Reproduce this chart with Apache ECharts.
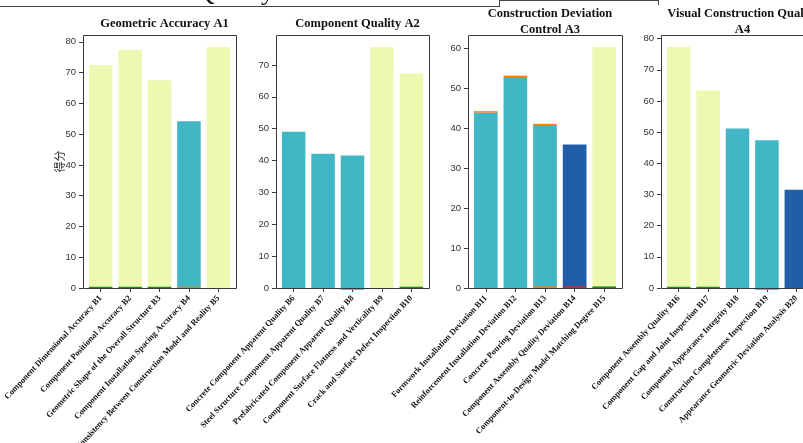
<!DOCTYPE html>
<html>
<head>
<meta charset="utf-8">
<script src="https://cdn.jsdelivr.net/npm/echarts@6/dist/echarts.min.js"></script>
<style>
  html, body { margin: 0; padding: 0; background: #fff; }
  #chart { width: 803px; height: 443px; }
</style>
</head>
<body>
<div id="chart"></div>
<script>
// ---- data ----
const titles = [
  'Geometric Accuracy A1',
  'Component Quality A2',
  'Construction Deviation\nControl A3',
  'Visual Construction Quality\nA4'
];

const catsA1 = ['Component Dimensional Accuracy B1', 'Component Positional Accuracy B2',
  'Geometric Shape of the Overall Structure B3', 'Component Installation Spacing Accuracy B4',
  'Consistency Between Construction Model and Reality B5'];
const catsA2 = ['Concrete Component Apparent Quality B6', 'Steel Structure Component Apparent Quality B7',
  'Prefabricated Component Apparent Quality B8', 'Component Surface Flatness and Verticality B9',
  'Crack and Surface Defect Inspection B10'];
const catsA3 = ['Formwork Installation Deviation B11', 'Reinforcement Installation Deviation B12',
  'Concrete Pouring Deviation B13', 'Component Assembly Quality Deviation B14',
  'Component-to-Design Model Matching Degree B15'];
const catsA4 = ['Component Assembly Quality B16', 'Component Gap and Joint Inspection B17',
  'Component Appearance Integrity B18', 'Construction Completeness Inspection B19',
  'Appearance Geometric Deviation Analysis B20'];

// scores
const scoresA1 = [72.5, 77.3, 67.5, 54.2, 78.3];
const scoresA2 = [49.0, 42.1, 41.6, 75.6, 67.3];
const scoresA3 = [43.9, 52.8, 40.8, 35.9, 60.3];
const scoresA4 = [77.3, 63.4, 51.2, 47.4, 31.5];

// small deviation components drawn at the base of each bar
const baseA1 = [0.4, 0.4, 0.4, 0.4, 0];
const baseA2 = [0, 0, 0, 0, 0.4];
const baseA3 = [0, 0, 0.4, 0.4, 0.4];
const baseA4 = [0.4, 0.4, 0, 0, 0];

// small components stacked on the top of the bar
const topA1 = [0, 0, 0, 0, 0];
const topA2 = [0, 0, 0, 0, 0];
const topA3 = [0.35, 0.35, 0.3, 0, 0];
const topA4 = [0, 0, 0, 0, 0];

// negative residuals
const negA1 = [0, 0, 0, 0, -0.4];
const negA2 = [0, 0, -0.6, -0.4, 0];
const negA3 = [0, 0, 0, 0, 0];
const negA4 = [0, 0, 0, -0.6, 0];

const yName = '得分';

// ---- styling / layout ----
const groups = [
  { cats: catsA1, vals: scoresA1, base: baseA1, top: topA1, neg: negA1 },
  { cats: catsA2, vals: scoresA2, base: baseA2, top: topA2, neg: negA2 },
  { cats: catsA3, vals: scoresA3, base: baseA3, top: topA3, neg: negA3 },
  { cats: catsA4, vals: scoresA4, base: baseA4, top: topA4, neg: negA4 }
];
const boxes = [
  { left: 83, width: 153 },
  { left: 276, width: 153 },
  { left: 468, width: 154 },
  { left: 661, width: 153 }
];
const BOX_TOP = 35, BOX_BOTTOM = 288;
const LIGHT = '#edf8b1', TEAL = '#41b6c4', DARK = '#225ea8';
const barColor = v => v >= 60 ? LIGHT : (v >= 40 ? TEAL : DARK);
const markColor = v => v >= 60 ? '#1a8a1a' : (v >= 40 ? '#ff7f0e' : '#d62728');
const SPINE = '#3a3a3a';
const serif = '"Times New Roman", "Liberation Serif", serif';
const sans = 'Arial, "Liberation Sans", sans-serif';

const grids = [], xAxes = [], yAxes = [], series = [], titleList = [], graphics = [];

groups.forEach((g, i) => {
  const b = boxes[i];
  // matplotlib-like x margins: categories span -0.6..4.6
  const pad = b.width * 0.1 / 5.2;
  grids.push({
    left: b.left + pad, top: BOX_TOP, width: b.width - 2 * pad, height: BOX_BOTTOM - BOX_TOP,
    containLabel: false, outerBoundsMode: 'none'
  });

  const totals = g.vals.map((v, j) => v + g.top[j]);
  const yMax = Math.max(...totals) * 1.05;
  const ticks = [];
  for (let t = 0; t <= yMax; t += 10) ticks.push(t);

  xAxes.push({
    type: 'category', gridIndex: i, data: g.cats,
    axisLine: { show: false },
    axisTick: { show: true, alignWithLabel: true, length: 4, lineStyle: { color: SPINE } },
    axisLabel: {
      rotate: 47, interval: 0, margin: 9, hideOverlap: false,
      fontFamily: serif, fontWeight: 'bold', fontSize: 8.5, color: '#111'
    }
  });
  yAxes.push({
    type: 'value', gridIndex: i, min: 0, max: yMax, offset: pad,
    name: i === 0 ? yName : '', nameLocation: 'middle', nameGap: 17.5, nameRotate: 90,
    nameMoveOverlap: false,
    nameTextStyle: { fontFamily: '"Noto Sans CJK SC", sans-serif', fontSize: 11, color: '#222' },
    axisLine: { show: false },
    splitLine: { show: false },
    axisTick: { show: true, length: 4, customValues: ticks, lineStyle: { color: SPINE } },
    axisLabel: { customValues: ticks, margin: 7, fontFamily: sans, fontSize: 9.5, color: '#333' }
  });

  const stackMain = 'main' + i;
  series.push({
    type: 'bar', xAxisIndex: i, yAxisIndex: i, stack: stackMain, barWidth: '80%', barGap: '-100%',
    clip: false,
    data: g.vals.map(v => ({ value: v, itemStyle: { color: barColor(v) } }))
  });
  series.push({
    type: 'bar', xAxisIndex: i, yAxisIndex: i, stack: stackMain, barWidth: '80%', barGap: '-100%',
    clip: false,
    data: g.top.map(v => v ? { value: v, itemStyle: { color: '#ff7f0e' } } : '-')
  });
  series.push({
    type: 'bar', xAxisIndex: i, yAxisIndex: i, stack: stackMain, barWidth: '80%', barGap: '-100%',
    clip: false,
    data: g.neg.map((v, j) => v ? { value: v, itemStyle: { color: barColor(g.vals[j]) } } : '-')
  });
  series.push({
    type: 'bar', xAxisIndex: i, yAxisIndex: i, stack: 'base' + i, barWidth: '80%', barGap: '-100%',
    clip: false, z: 3,
    data: g.base.map((v, j) => v ? { value: v, itemStyle: { color: markColor(g.vals[j]) } } : '-')
  });

  // panel frame
  graphics.push({
    type: 'rect', z: 10, silent: true,
    shape: { x: b.left + 0.5, y: BOX_TOP + 0.5, width: b.width, height: BOX_BOTTOM - BOX_TOP },
    style: { fill: 'none', stroke: SPINE, lineWidth: 1 }
  });

  const twoLine = titles[i].indexOf('\n') >= 0;
  titleList.push({
    text: titles[i], left: b.left + b.width / 2, top: twoLine ? 1 : 11, textAlign: 'center',
    textStyle: { fontFamily: serif, fontWeight: 'bold', fontSize: 12.5, color: '#111', lineHeight: 16 }
  });
});

// frame of the block above the figure
graphics.push(
  { type: 'line', silent: true, shape: { x1: 0, y1: 6.5, x2: 499, y2: 6.5 }, style: { stroke: '#444', lineWidth: 1 } },
  { type: 'line', silent: true, shape: { x1: 499.5, y1: 0, x2: 499.5, y2: 7 }, style: { stroke: '#444', lineWidth: 1 } },
  { type: 'line', silent: true, shape: { x1: 499, y1: 0.5, x2: 658, y2: 0.5 }, style: { stroke: '#444', lineWidth: 1 } },
  { type: 'line', silent: true, shape: { x1: 658.5, y1: 0, x2: 658.5, y2: 5 }, style: { stroke: '#444', lineWidth: 1 } },
  { type: 'text', silent: true, x: 196, y: 6,
    style: { text: 'Quality', fontFamily: serif, fontSize: 26, fill: '#111', verticalAlign: 'bottom' } }
);

const chart = echarts.init(document.getElementById('chart'), null, { renderer: 'canvas' });
chart.setOption({
  backgroundColor: '#fff',
  animation: false,
  title: titleList,
  grid: grids,
  xAxis: xAxes,
  yAxis: yAxes,
  series: series,
  graphic: graphics
});
</script>
</body>
</html>
